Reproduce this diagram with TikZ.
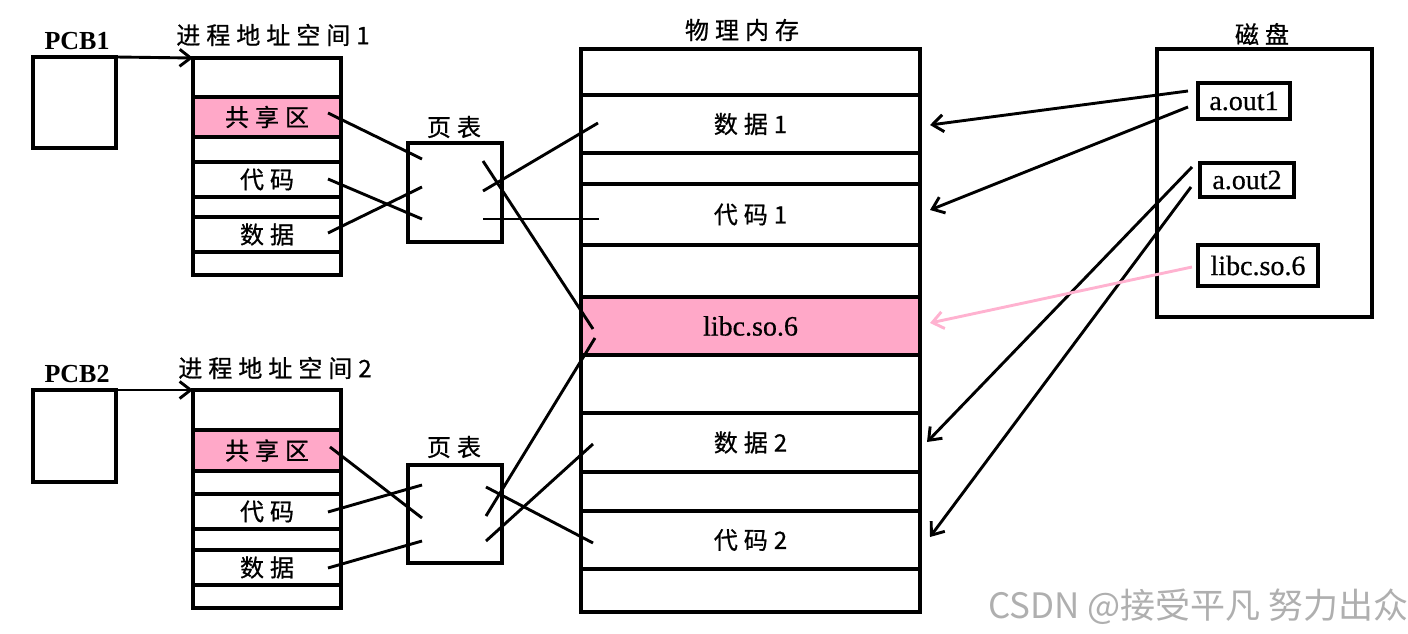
\documentclass[tikz,border=0pt]{standalone}
\usepackage{fontspec}
\setmainfont{Liberation Serif}
\newfontfamily\cjk[LetterSpace=25,FakeBold=0.8]{Noto Sans CJK SC}
\newfontfamily\cjkw{Noto Sans CJK SC}
\newfontfamily\latf[FakeBold=0.6]{Liberation Serif}
\usetikzlibrary{arrows.meta,calc}
\definecolor{pinkfill}{RGB}{255,168,200}
\definecolor{pinkline}{RGB}{255,178,208}
\definecolor{wmgray}{RGB}{175,175,175}
\begin{document}
\begin{tikzpicture}[x=1pt,y=-1pt,
  box/.style={draw, line width=3.2pt, inner sep=0pt, outer sep=0pt},
  shared/.style={box, fill=pinkfill},
  cn/.style={font=\cjk\fontsize{24}{28}\selectfont, inner sep=0pt},
  lat/.style={font=\latf\fontsize{28}{30}\selectfont, inner sep=0pt},
  latb/.style={font=\bfseries\fontsize{26}{30}\selectfont, inner sep=0pt},
  link/.style={line width=2.9pt},
  arr/.style={line width=2.9pt, -{Straight Barb[length=11pt,width=17pt,line width=2.9pt]}},
  pinkarr/.style={arr, draw=pinkline}]
\useasboundingbox (0,0) rectangle (1408,634);
\clip (0,0) rectangle (1408,634);

% ---------- PCBs ----------
\node[box, minimum width=83pt, minimum height=91pt] (pcb1) at (74.5,102.5) {};
\node[latb] (pcb1l) at (77,41) {PCB1};
\node[box, minimum width=83pt, minimum height=92pt] (pcb2) at (74.5,436) {};
\node[latb] (pcb2l) at (77,374) {PCB2};

% ---------- address space 1 ----------
\node[cn] (as1l) at (273,35) {进程地址空间1};
\node[box, minimum width=148pt, minimum height=39pt] (a1r1) at (267,77.5) {};
\node[shared, minimum width=148pt, minimum height=40pt, cn] (a1r2) at (267,117) {共享区};
\node[box, minimum width=148pt, minimum height=25pt] (a1r3) at (267,149.5) {};
\node[box, minimum width=148pt, minimum height=35pt, cn] (a1r4) at (267,179.5) {代码};
\node[box, minimum width=148pt, minimum height=20pt] (a1r5) at (267,207) {};
\node[box, minimum width=148pt, minimum height=35pt, cn] (a1r6) at (267,234.5) {数据};
\node[box, minimum width=148pt, minimum height=23pt] (a1r7) at (267,263.5) {};

% ---------- address space 2 ----------
\node[cn] (as2l) at (275,368) {进程地址空间2};
\node[box, minimum width=148pt, minimum height=40pt] (a2r1) at (267,410) {};
\node[shared, minimum width=148pt, minimum height=41pt, cn] (a2r2) at (267,450.5) {共享区};
\node[box, minimum width=148pt, minimum height=23pt] (a2r3) at (267,482.5) {};
\node[box, minimum width=148pt, minimum height=35pt, cn] (a2r4) at (267,511.5) {代码};
\node[box, minimum width=148pt, minimum height=21pt] (a2r5) at (267,539.5) {};
\node[box, minimum width=148pt, minimum height=35pt, cn] (a2r6) at (267,567.5) {数据};
\node[box, minimum width=148pt, minimum height=23pt] (a2r7) at (267,596.5) {};

\draw[arr] (pcb1.north east) -- (a1r1.north west);
\draw[arr] (pcb2.north east) -- (a2r1.north west);

% ---------- page tables ----------
\node[cn] (pt1l) at (454,127) {页表};
\node[box, minimum width=94pt, minimum height=99pt] (pt1) at (455,192.5) {};
\node[cn] (pt2l) at (454,447) {页表};
\node[box, minimum width=94pt, minimum height=98pt] (pt2) at (455,514) {};

% ---------- physical memory ----------
\node[cn] (meml) at (742,30) {物理内存};
\node[box, minimum width=339pt, minimum height=46pt] (m1) at (750.5,72) {};
\node[box, minimum width=339pt, minimum height=58pt, cn] (m2) at (750.5,124) {数据1};
\node[box, minimum width=339pt, minimum height=31pt] (m3) at (750.5,168.5) {};
\node[box, minimum width=339pt, minimum height=61pt, cn] (m4) at (750.5,214.5) {代码1};
\node[box, minimum width=339pt, minimum height=52pt] (m5) at (750.5,271) {};
\node[shared, minimum width=339pt, minimum height=58pt, lat] (m6) at (750.5,326) {libc.so.6};
\node[box, minimum width=339pt, minimum height=58pt] (m7) at (750.5,384) {};
\node[box, minimum width=339pt, minimum height=59pt, cn] (m8) at (750.5,442.5) {数据2};
\node[box, minimum width=339pt, minimum height=39pt] (m9) at (750.5,491.5) {};
\node[box, minimum width=339pt, minimum height=58pt, cn] (m10) at (750.5,540) {代码2};
\node[box, minimum width=339pt, minimum height=43pt] (m11) at (750.5,590.5) {};

% ---------- disk ----------
\node[cn] (diskl) at (1262,34) {磁盘};
\node[box, minimum width=215pt, minimum height=268pt] (disk) at (1264.5,183) {};
\node[box, minimum width=92pt, minimum height=36pt, lat] (f1) at (1244,101) {a.out1};
\node[box, minimum width=94pt, minimum height=34pt, lat] (f2) at (1247,180) {a.out2};
\node[box, minimum width=120pt, minimum height=41pt, lat] (f3) at (1258,265.5) {libc.so.6};

% ---------- link end points ----------
\coordinate (s1) at (328,113);  \coordinate (p1a) at (422,159);
\coordinate (c1) at (328,179);  \coordinate (p1c) at (422,219);
\coordinate (d1) at (328,233);  \coordinate (p1b) at (422,187);
\coordinate (q1a) at (483,161); \coordinate (ml1) at (593,329);
\coordinate (q1b) at (483,191); \coordinate (md1) at (598,123);
\coordinate (q1c) at (483,219); \coordinate (mc1) at (599,219);

\coordinate (s2) at (330,447);  \coordinate (p2b) at (422,518);
\coordinate (c2) at (328,512);  \coordinate (p2a) at (422,485);
\coordinate (d2) at (328,568);  \coordinate (p2c) at (422,541);
\coordinate (q2b) at (486,516); \coordinate (ml2) at (595,338);
\coordinate (q2c) at (486,541); \coordinate (md2) at (593,444);
\coordinate (q2a) at (486,487); \coordinate (mc2) at (593,543);

\coordinate (f1a) at (1188,91);  \coordinate (t1) at (930,125);
\coordinate (f1b) at (1188,107); \coordinate (t2) at (930,210);
\coordinate (f2a) at (1192,167); \coordinate (t3) at (927,442);
\coordinate (f2b) at (1191,187); \coordinate (t4) at (930,537);
\coordinate (f3a) at (1192,267); \coordinate (t5) at (930,323);

\draw[link] (s1) -- (p1a);
\draw[link] (c1) -- (p1c);
\draw[link] (d1) -- (p1b);
\draw[link] (q1a) -- (ml1);
\draw[link] (q1b) -- (md1);
\draw[link] (q1c) -- (mc1);

\draw[link] (s2) -- (p2b);
\draw[link] (c2) -- (p2a);
\draw[link] (d2) -- (p2c);
\draw[link] (q2b) -- (ml2);
\draw[link] (q2c) -- (md2);
\draw[link] (q2a) -- (mc2);

\draw[arr] (f1a) -- (t1);
\draw[arr] (f1b) -- (t2);
\draw[arr] (f2a) -- (t3);
\draw[arr] (f2b) -- (t4);
\draw[pinkarr] (f3a) -- (t5);

% ---------- watermark ----------
\node[anchor=west, inner sep=0pt, text=wmgray, font=\cjkw\fontsize{35}{38}\selectfont] (wm) at (988,607) {CSDN @接受平凡 努力出众};
\end{tikzpicture}
\end{document}
